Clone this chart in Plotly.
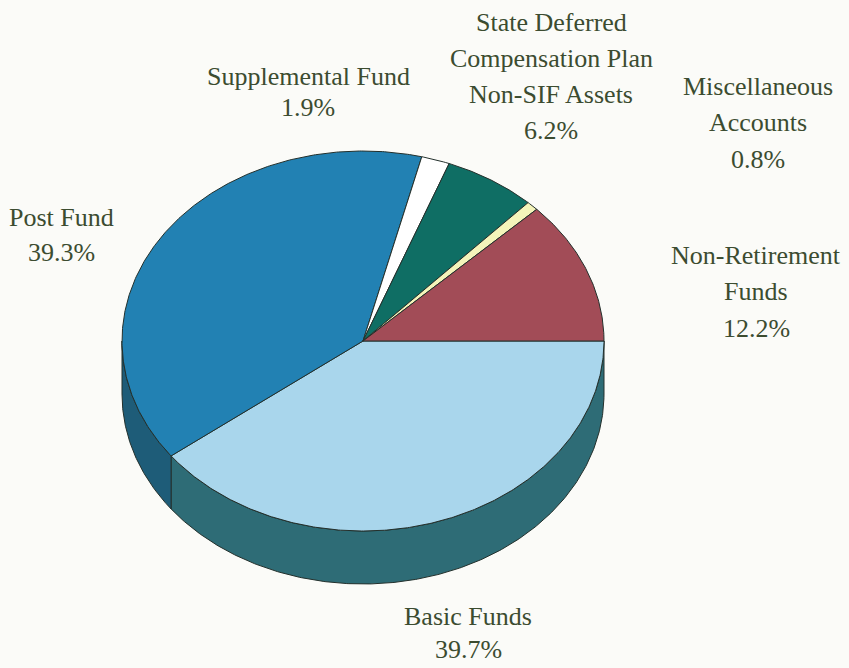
import numpy as np
import plotly.graph_objects as go

# ---- data ----
categories = ["Basic Funds", "Post Fund", "Supplemental Fund",
              "State Deferred|Compensation Plan|Non-SIF Assets",
              "Miscellaneous|Accounts", "Non-Retirement|Funds"]
values = [39.7, 39.3, 1.9, 6.2, 0.8, 12.2]

# ---- styles ----
top_colors = ["#a9d6ec", "#2281b3", "#ffffff", "#0f6e64", "#f4f4ba", "#a24c57"]
side_colors = ["#2e6c76", "#1e5c78", "#d8d8d8", "#0a4a44", "#b8b88a", "#6e343b"]
label_pos = [(468, 616, 33), (61, 217, 35), (308, 76, 31), (551, 22, 36),
             (758, 86, 36.5), (756, 255, 36.5)]
text_color = "#3c4c30"
bg = "#fbfbf8"
edge = "#23302c"

# pie geometry (screen units, y downwards)
cx, cy, rx, ry, depth = 363, 341, 241, 190, 53

fig = go.Figure()

vals = np.array(values, dtype=float)
frac = vals / vals.sum()
bounds = np.concatenate([[0.0], np.cumsum(frac)]) * 360.0  # clockwise from 3 o'clock


def arc(a, b, dy=0.0):
    n = max(int(abs(b - a) * 2) + 2, 3)
    t = np.radians(np.linspace(a, b, n))
    return cx + rx * np.cos(t), cy + dy + ry * np.sin(t)

# side walls (visible front half: 0..180 degrees)
for i in range(len(vals)):
    a, b = max(bounds[i], 0.0), min(bounds[i + 1], 180.0)
    if b <= a:
        continue
    x1, y1 = arc(a, b)
    x2, y2 = arc(b, a, depth)
    fig.add_trace(go.Scatter(
        x=np.concatenate([x1, x2, x1[:1]]), y=np.concatenate([y1, y2, y1[:1]]),
        mode="lines", fill="toself", fillcolor=side_colors[i],
        line=dict(color=edge, width=1), hoverinfo="skip", showlegend=False))

# top face slices
for i in range(len(vals)):
    x1, y1 = arc(bounds[i], bounds[i + 1])
    xs = np.concatenate([[cx], x1, [cx]])
    ys = np.concatenate([[cy], y1, [cy]])
    name = categories[i].replace("|", " ")
    fig.add_trace(go.Scatter(
        x=xs, y=ys, mode="lines", fill="toself", fillcolor=top_colors[i],
        line=dict(color=edge, width=1), name=name,
        hovertemplate=f"{name}: {values[i]}%<extra></extra>", showlegend=False))

# labels
for i, cat in enumerate(categories):
    lines = cat.split("|") + [f"{values[i]}%"]
    x0, y0, sp = label_pos[i]
    for k, line in enumerate(lines):
        fig.add_annotation(x=x0, y=y0 + k * sp, xref="x", yref="y", text=line,
                           showarrow=False, xanchor="center", yanchor="middle",
                           font=dict(family="Liberation Serif", size=26, color=text_color))

fig.update_xaxes(range=[0, 849], visible=False, fixedrange=True)
fig.update_yaxes(range=[668, 0], visible=False, fixedrange=True)
fig.update_layout(width=849, height=668, autosize=False,
                  margin=dict(l=0, r=0, t=0, b=0),
                  paper_bgcolor=bg, plot_bgcolor=bg)

fig.write_html("out.html", config={"displayModeBar": False},
               post_script="document.body.style.margin='0';"
                           "document.body.style.background='" + bg + "';")
